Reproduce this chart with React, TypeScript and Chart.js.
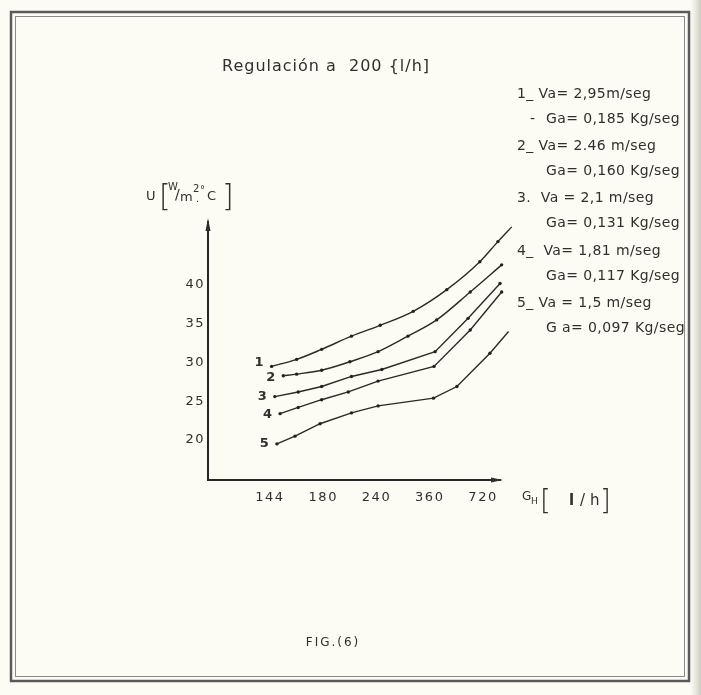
import React, { useEffect, useRef } from "react";
import { Chart, registerables } from "chart.js";

Chart.register(...registerables);

// ---- data ----
const categories = ["144", "180", "240", "360", "720"];
const yTickValues = [20, 25, 30, 35, 40];
const curveNames = ["1", "2", "3", "4", "5"];

// x is the position along the G_H axis (0 = 144, 1 = 180, 2 = 240, 3 = 360, 4 = 720)
const curve1X = [0.03, 0.5, 0.97, 1.53, 2.07, 2.69, 3.32, 3.94, 4.28, 4.54];
const curve1Y = [29.5, 30.4, 31.7, 33.4, 34.8, 36.6, 39.4, 43.0, 45.6, 47.5];

const curve2X = [0.25, 0.5, 0.97, 1.5, 2.03, 2.59, 3.13, 3.76, 4.35];
const curve2Y = [28.3, 28.5, 29.0, 30.1, 31.4, 33.4, 35.5, 39.1, 42.6];

const curve3X = [0.09, 0.53, 0.97, 1.53, 2.1, 3.1, 3.72, 4.32];
const curve3Y = [25.6, 26.2, 26.9, 28.2, 29.1, 31.4, 35.7, 40.2];

const curve4X = [0.19, 0.53, 0.97, 1.47, 2.03, 3.08, 3.76, 4.35];
const curve4Y = [23.4, 24.2, 25.2, 26.2, 27.6, 29.5, 34.2, 39.1];

const curve5X = [0.13, 0.47, 0.94, 1.53, 2.03, 3.07, 3.51, 4.13, 4.48];
const curve5Y = [19.5, 20.5, 22.1, 23.5, 24.4, 25.4, 26.9, 31.2, 34.0];

const vaLabels = [
  "1_ Va= 2,95m/seg",
  "2_ Va= 2.46 m/seg",
  "3.  Va = 2,1 m/seg",
  "4_  Va= 1,81 m/seg",
  "5_ Va = 1,5 m/seg",
];
const gaLabels = [
  "Ga= 0,185 Kg/seg",
  "Ga= 0,160 Kg/seg",
  "Ga= 0,131 Kg/seg",
  "Ga= 0,117 Kg/seg",
  "G a= 0,097 Kg/seg",
];

const titleText = "Regulación a  200 {l/h]";
const figText = "FIG.(6)";

const curvesX = [curve1X, curve2X, curve3X, curve4X, curve5X];
const curvesY = [curve1Y, curve2Y, curve3Y, curve4Y, curve5Y];

const FONT = "'DejaVu Sans', sans-serif";
const INK = "#2f2f2f";

const decorPlugin = {
  id: "decor",
  beforeDraw(chart: any) {
    const ctx = chart.ctx as CanvasRenderingContext2D;
    const W = chart.width;
    const H = chart.height;
    ctx.save();
    ctx.fillStyle = "#fcfcf4";
    ctx.fillRect(0, 0, W, H);
    // scan edge at the right
    const g = ctx.createLinearGradient(690, 0, W, 0);
    g.addColorStop(0, "rgba(200,200,190,0)");
    g.addColorStop(1, "rgba(170,170,160,0.6)");
    ctx.fillStyle = g;
    ctx.fillRect(690, 0, W - 690, H);
    // double frame
    ctx.strokeStyle = "#5a5a5a";
    ctx.lineWidth = 2.5;
    ctx.strokeRect(11, 12, 678, 669);
    ctx.strokeStyle = "#8a8a8a";
    ctx.lineWidth = 1;
    ctx.strokeRect(15.5, 16.5, 669, 660);
    ctx.restore();
    (ctx as any).letterSpacing = "1.5px";
  },
  afterDraw(chart: any) {
    const ctx = chart.ctx as CanvasRenderingContext2D;
    const area = chart.chartArea;
    ctx.save();
    ctx.fillStyle = INK;
    ctx.strokeStyle = INK;

    // axis arrowheads
    ctx.beginPath();
    ctx.moveTo(area.left, area.top - 4);
    ctx.lineTo(area.left - 2.5, area.top + 9);
    ctx.lineTo(area.left + 2.5, area.top + 9);
    ctx.closePath();
    ctx.fill();
    ctx.beginPath();
    ctx.moveTo(area.right + 3, area.bottom);
    ctx.lineTo(area.right - 9, area.bottom - 2.5);
    ctx.lineTo(area.right - 9, area.bottom + 2.5);
    ctx.closePath();
    ctx.fill();

    // title
    (ctx as any).letterSpacing = "1px";
    ctx.font = `16px ${FONT}`;
    ctx.textAlign = "center";
    ctx.textBaseline = "middle";
    ctx.fillText(titleText, 326, 67);

    // legend block
    (ctx as any).letterSpacing = "0.4px";
    ctx.font = `14px ${FONT}`;
    ctx.textAlign = "left";
    vaLabels.forEach((t, i) => {
      const y = 94 + i * 52.4;
      ctx.fillText(t, 517, y);
      if (i === 0) ctx.fillText("-", 530, y + 25);
      ctx.fillText(gaLabels[i], 546, y + 25);
    });

    // curve numbers at the start of each curve
    (ctx as any).letterSpacing = "0px";
    ctx.font = `bold 13px ${FONT}`;
    ctx.textAlign = "right";
    const dy = [-4, 2, 0, 1, 0];
    curveNames.forEach((name, i) => {
      const p = chart.getDatasetMeta(i).data[0];
      if (p) ctx.fillText(name, p.x - 8, p.y + dy[i]);
    });

    // y axis title  U [W/m²°C]
    ctx.textAlign = "left";
    ctx.textBaseline = "alphabetic";
    ctx.font = `13px ${FONT}`;
    ctx.fillText("U", 146, 200);
    ctx.font = `300 30px ${FONT}`;
    ctx.fillText("[", 159, 206);
    ctx.fillText("]", 222, 206);
    ctx.font = `10px ${FONT}`;
    ctx.fillText("W", 168, 190);
    ctx.font = `14px ${FONT}`;
    ctx.fillText("/", 175, 199);
    ctx.font = `13px ${FONT}`;
    ctx.fillText("m", 180, 201);
    ctx.font = `10px ${FONT}`;
    ctx.fillText("2", 193, 192);
    ctx.fillText("°", 200, 193);
    ctx.fillText(".", 196, 202);
    ctx.font = `13px ${FONT}`;
    ctx.fillText("C", 207, 200);

    // x axis title  G_H [ l/h ]
    ctx.font = `12px ${FONT}`;
    ctx.fillText("G", 522, 500);
    ctx.font = `9px ${FONT}`;
    ctx.fillText("H", 531, 504);
    ctx.font = `300 28px ${FONT}`;
    ctx.fillText("[", 540, 510);
    ctx.fillText("]", 600, 510);
    ctx.font = `bold 15px ${FONT}`;
    ctx.fillText("l", 569, 505);
    ctx.font = `15px ${FONT}`;
    ctx.fillText("/", 580, 505);
    ctx.fillText("h", 590, 505);

    // figure caption
    (ctx as any).letterSpacing = "2px";
    ctx.font = `12px ${FONT}`;
    ctx.textAlign = "center";
    ctx.textBaseline = "middle";
    ctx.fillText(figText, 333, 643);
    ctx.restore();
  },
};

export default function App() {
  const ref = useRef<HTMLCanvasElement | null>(null);

  useEffect(() => {
    document.body.style.margin = "0";
    const canvas = ref.current;
    if (!canvas) return;

    const datasets = curvesX.map((xs, i) => ({
      label: curveNames[i],
      data: xs.map((x, j) => ({ x, y: curvesY[i][j] })),
      borderColor: "#2a2a2a",
      borderWidth: 1.4,
      pointRadius: 1.7,
      pointBackgroundColor: "#222",
      pointBorderWidth: 0,
      tension: i < 2 ? 0.35 : 0,
      cubicInterpolationMode: i < 2 ? ("monotone" as const) : ("default" as const),
      fill: false,
      clip: false as any,
    }));

    const chart = new Chart(canvas, {
      type: "line",
      data: { datasets },
      options: {
        responsive: false,
        animation: false,
        devicePixelRatio: 1,
        layout: { padding: { left: 168, top: 222, right: 201, bottom: 175 } },
        plugins: {
          legend: { display: false },
          title: { display: false },
          tooltip: { enabled: false },
        },
        scales: {
          x: {
            type: "linear",
            min: -1.164,
            max: 4.319,
            grid: { display: false, drawTicks: false },
            border: { display: true, color: "#262626", width: 2 },
            afterBuildTicks: (scale: any) => {
              scale.ticks = categories.map((_, i) => ({ value: i }));
            },
            afterFit: (scale: any) => {
              scale.height = 40;
            },
            ticks: {
              autoSkip: false,
              maxRotation: 0,
              padding: 10,
              color: INK,
              font: { family: FONT, size: 13 },
              callback: (v: any) => categories[Math.round(Number(v))] ?? "",
            },
          },
          y: {
            type: "linear",
            min: 14.84,
            max: 48.13,
            grid: { display: false, drawTicks: false },
            border: { display: true, color: "#262626", width: 2 },
            afterBuildTicks: (scale: any) => {
              scale.ticks = yTickValues.map((v) => ({ value: v }));
            },
            afterFit: (scale: any) => {
              scale.width = 40;
            },
            ticks: {
              padding: 3,
              color: INK,
              font: { family: FONT, size: 13 },
              callback: (v: any) => String(v),
            },
          },
        },
      },
      plugins: [decorPlugin],
    });

    return () => chart.destroy();
  }, []);

  return (
    <div style={{ width: 701, height: 695 }}>
      <canvas ref={ref} width={701} height={695} style={{ display: "block" }} />
    </div>
  );
}
